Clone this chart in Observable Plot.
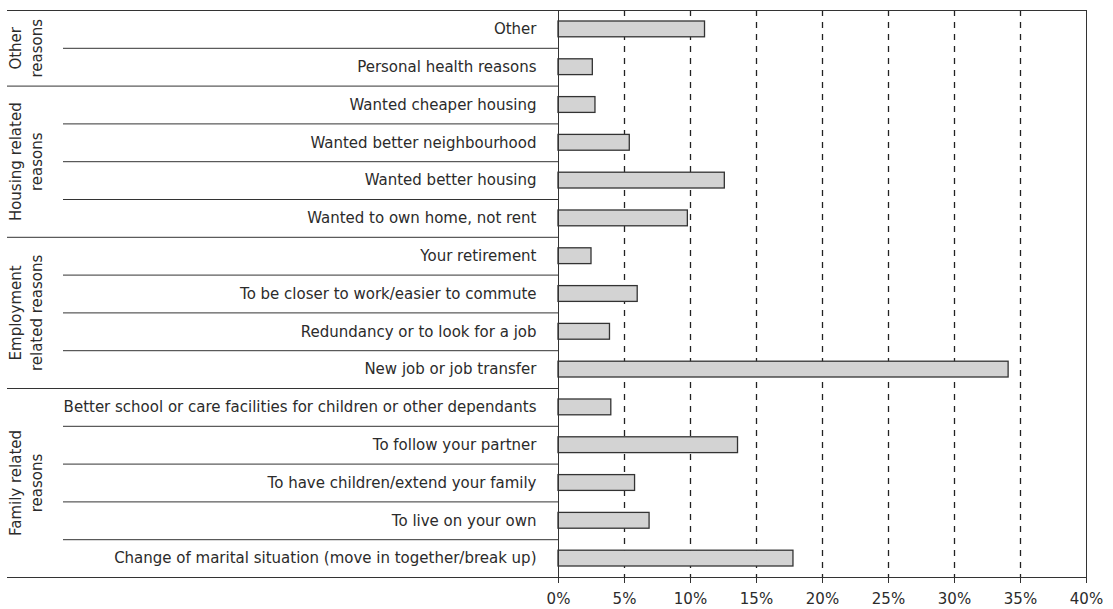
<!DOCTYPE html>
<html><head><meta charset="utf-8">
<script src="https://cdn.jsdelivr.net/npm/d3@7"></script>
<script src="https://cdn.jsdelivr.net/npm/@observablehq/plot@0.6"></script>
<style>html,body{margin:0;padding:0;background:#fff} #chart svg{display:block}</style>
</head><body><div id="chart"></div>
<script>
const categories = [
  "Other",
  "Personal health reasons",
  "Wanted cheaper housing",
  "Wanted better neighbourhood",
  "Wanted better housing",
  "Wanted to own home, not rent",
  "Your retirement",
  "To be closer to work/easier to commute",
  "Redundancy or to look for a job",
  "New job or job transfer",
  "Better school or care facilities for children or other dependants",
  "To follow your partner",
  "To have children/extend your family",
  "To live on your own",
  "Change of marital situation (move in together/break up)"
];
const values = [11.1, 2.6, 2.8, 5.4, 12.6, 9.8, 2.5, 6.0, 3.9, 34.1, 4.0, 13.6, 5.8, 6.9, 17.8];
const groupNames = ["Other\nreasons", "Housing related\nreasons", "Employment\nrelated reasons", "Family related\nreasons"];
const groupSizes = [2, 4, 4, 5];
const xTicks = [0, 5, 10, 15, 20, 25, 30, 35, 40];
const gridTicks = [5, 10, 15, 20, 25, 30, 35];

const rows = categories.map((c, i) => ({cat: c, value: values[i], i}));
let s = 0;
const groups = groupNames.map((g, k) => { const o = {name: g, start: s, end: s + groupSizes[k]}; s += groupSizes[k]; return o; });
const groupBounds = [0, ...groups.map(g => g.end)];
const innerBounds = d3.range(1, categories.length).filter(b => !groupBounds.includes(b));

const ink = "#2b2b2b";
const chart = Plot.plot({
  width: 1113, height: 609,
  marginLeft: 558, marginRight: 27, marginTop: 10, marginBottom: 32,
  style: {fontFamily: "'DejaVu Sans', sans-serif", fontSize: "15px", color: ink, background: "#fff"},
  x: {domain: [0, 40], label: null},
  y: {domain: [0, categories.length], reverse: true, axis: null, label: null},
  marks: [
    Plot.ruleX(gridTicks, {stroke: "#222", strokeDasharray: "6,6", strokeWidth: 1.3}),
    Plot.rect(rows, {x1: 0, x2: "value", y1: "i", y2: d => d.i + 1, insetTop: 11, insetBottom: 11,
      fill: "#d3d3d3", stroke: "#333", strokeWidth: 1.3}),
    Plot.text(rows, {y: d => d.i + 0.5, text: "cat", frameAnchor: "left", textAnchor: "end", dx: -22, fill: ink}),
    Plot.axisY(innerBounds, {tickSize: 495, tickFormat: () => "", stroke: "#333", label: null}),
    Plot.axisY(groupBounds, {tickSize: 551, tickFormat: () => "", stroke: "#333", label: null}),
    Plot.text(groups, {y: g => (g.start + g.end) / 2, text: "name", frameAnchor: "left", dx: -534,
      rotate: -90, lineHeight: 1.4, textAnchor: "middle", fill: ink}),
    Plot.frame({stroke: "#333"}),
    Plot.axisX({ticks: xTicks, tickFormat: d => d + "%", tickSize: 6, tickPadding: 10, stroke: "#333", label: null})
  ]
});
document.getElementById("chart").appendChild(chart);
</script>
</body></html>
